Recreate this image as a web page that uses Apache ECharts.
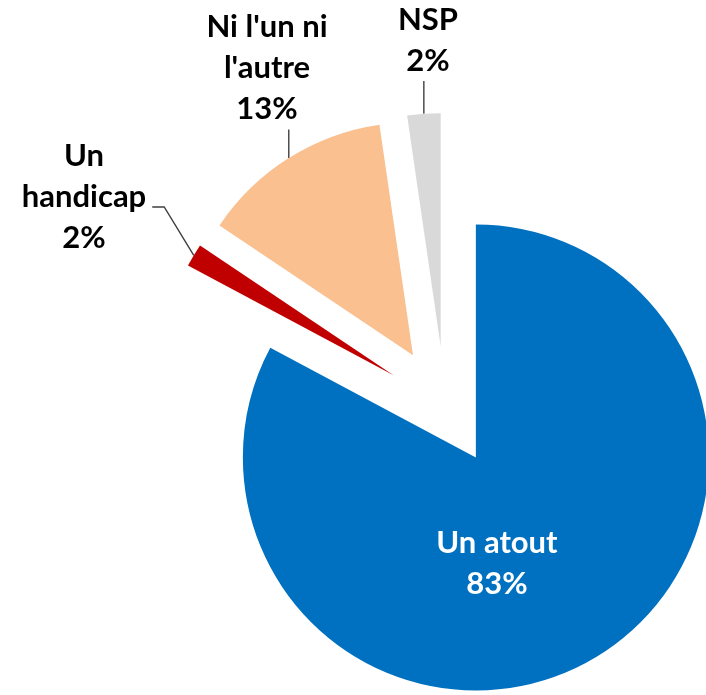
<!DOCTYPE html>
<html lang="fr">
<head>
<meta charset="utf-8">
<script src="https://cdn.jsdelivr.net/npm/echarts@6/dist/echarts.min.js"></script>
<style>
    html, body { margin: 0; padding: 0; background: #fff; }
    #chart { width: 706px; height: 695px; }
</style>
</head>
<body>
<div id="chart"></div>
<script>
    // data
    var categories = ['Un atout', 'Un handicap', "Ni l'un ni l'autre", 'NSP'];
    var values = [82.8, 1.6, 13.3, 2.3];
    var labelText = ['Un atout', 'Un\nhandicap', "Ni l'un ni\nl'autre", 'NSP'];
    var colors = ['#0070C0', '#C00000', '#FAC090', '#D9D9D9'];

    // where each label block is centred
    var labelPos = [[497, 563], [84, 197], [267, 68], [428, 40]];

    var pieCenter = [445, 406];
    var pieRadius = 233;
    var explode = 60;

    var chart = echarts.init(document.getElementById('chart'));

    var total = values.reduce(function (a, b) { return a + b; }, 0);
    var cum = 0;

    // every slice is pulled out along its own bisector, so one pie per slice
    var series = categories.map(function (name, k) {
        var mid = (cum + values[k] / 2) / total * 2 * Math.PI;
        cum += values[k];
        var cx = pieCenter[0] + explode * Math.sin(mid);
        var cy = pieCenter[1] - explode * Math.cos(mid);
        // leader lines start at the middle of the slice's arc
        var arcMid = [cx + pieRadius * Math.sin(mid), cy - pieRadius * Math.cos(mid)];

        return {
            type: 'pie',
            silent: true,
            center: [cx, cy],
            radius: pieRadius,
            startAngle: 90,
            clockwise: true,
            avoidLabelOverlap: false,
            itemStyle: { borderWidth: 0 },
            label: {
                show: true,
                position: k === 0 ? 'inside' : 'outside',
                color: k === 0 ? '#fff' : '#000',
                fontFamily: 'Lato',
                fontWeight: 'bold',
                fontSize: 31,
                lineHeight: 41,
                align: 'center',
                formatter: function (p) {
                    return labelText[p.dataIndex] + '\n' + Math.round(p.percent) + '%';
                }
            },
            labelLine: {
                show: k !== 0,
                smooth: false,
                lineStyle: { color: '#404040', width: 1.4 }
            },
            labelLayout: function (p) {
                if (p.dataIndex !== k) return {};
                var out = {
                    x: labelPos[k][0],
                    y: labelPos[k][1],
                    align: 'center',
                    verticalAlign: 'middle'
                };
                if (k === 0) return out;
                var w = p.labelRect.width, h = p.labelRect.height;
                if (k === 1) {
                    // label sits to the left: short horizontal tail then down to the arc
                    var ly = labelPos[k][1] + 10;
                    var rx = labelPos[k][0] + w / 2;
                    out.labelLinePoints = [arcMid, [rx + 18, ly], [rx + 6, ly]];
                } else {
                    var bottom = labelPos[k][1] + h / 2;
                    out.labelLinePoints = [arcMid, [arcMid[0], (arcMid[1] + bottom) / 2], [arcMid[0], bottom]];
                }
                return out;
            },
            data: categories.map(function (n, i) {
                return {
                    name: n,
                    value: values[i],
                    itemStyle: { color: i === k ? colors[i] : 'rgba(0,0,0,0)' },
                    label: { show: i === k },
                    labelLine: { show: i === k && k !== 0 }
                };
            })
        };
    });

    chart.setOption({
        backgroundColor: '#fff',
        animation: false,
        series: series
    });
</script>
</body>
</html>
